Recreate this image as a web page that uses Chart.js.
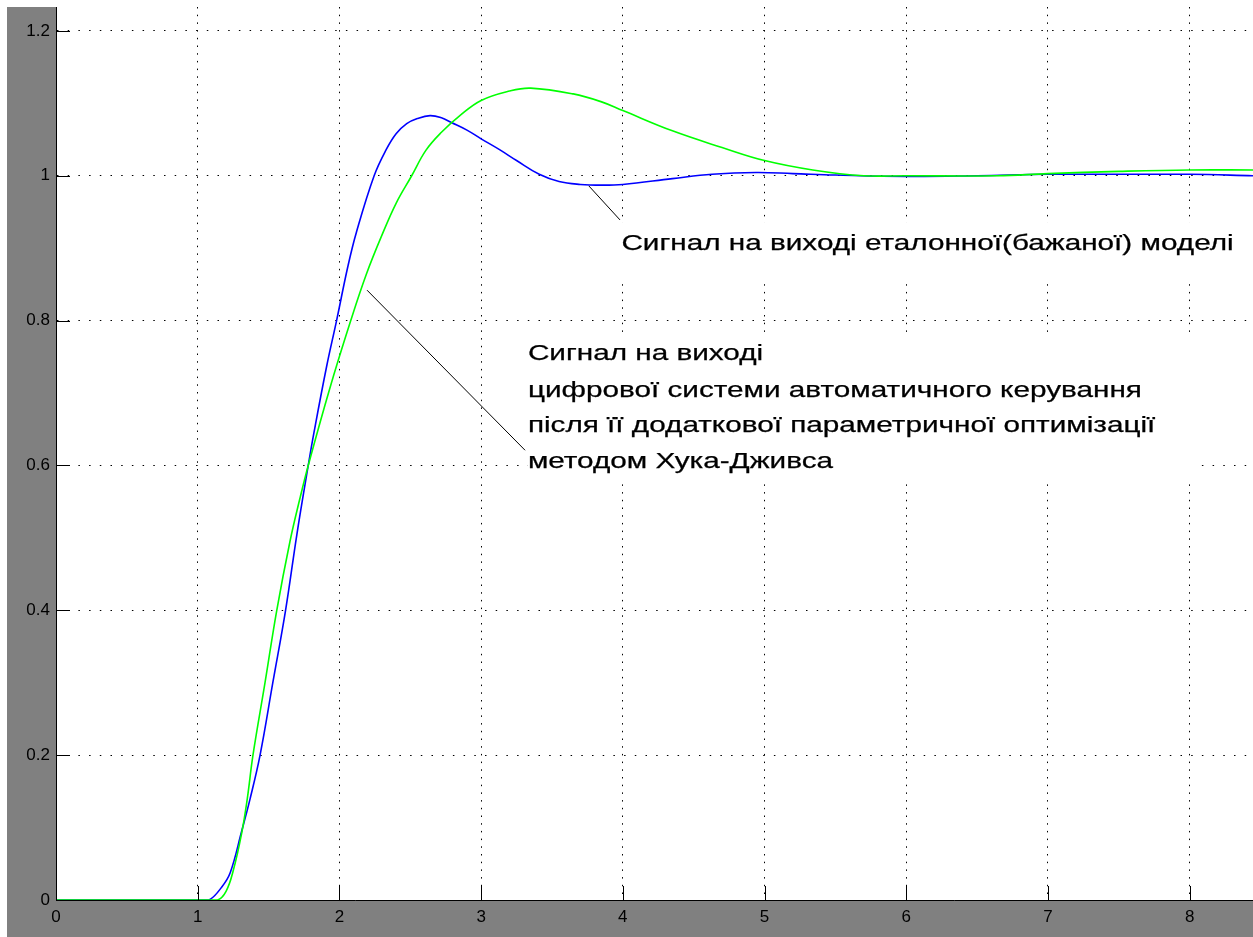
<!DOCTYPE html>
<html><head><meta charset="utf-8">
<script src="https://cdn.jsdelivr.net/npm/chart.js@4/dist/chart.umd.min.js"></script>
<style>html,body{margin:0;padding:0;background:#fff;}canvas{display:block;}</style>
</head><body>
<canvas id="c" width="1253" height="937"></canvas>
<script>
// ---- data ----
const blueT = [0, 1.0, 1.08, 1.17, 1.23, 1.31, 1.37, 1.44, 1.53, 1.62, 1.70, 1.78, 1.82, 1.91, 1.98, 2.06, 2.12, 2.245, 2.33, 2.40, 2.475, 2.55, 2.64, 2.72, 2.79, 2.9, 3.0, 3.13, 3.25, 3.41, 3.55, 3.7, 3.85, 4.0, 4.35, 4.63, 4.94, 5.2, 5.5, 6.0, 6.5, 7.0, 7.5, 8.0, 8.45];
const blueV = [0, 0, 0, 0.018, 0.038, 0.095, 0.14, 0.2, 0.3, 0.4, 0.505, 0.6, 0.645, 0.737, 0.8, 0.875, 0.922, 1.0, 1.036, 1.058, 1.072, 1.079, 1.083, 1.080, 1.0735, 1.063, 1.051, 1.036, 1.021, 1.002, 0.992, 0.988, 0.987, 0.988, 0.996, 1.002, 1.0045, 1.003, 1.001, 0.999, 1.0, 1.002, 1.002, 1.002, 1.0];
const greenT = [0, 1.0, 1.14, 1.2, 1.25, 1.31, 1.35, 1.39, 1.475, 1.557, 1.651, 1.722, 1.78, 1.93, 2.08, 2.19, 2.30, 2.40, 2.51, 2.61, 2.72, 2.85, 3.0, 3.2, 3.35, 3.65, 3.85, 4.0, 4.35, 4.7, 5.0, 5.34, 5.7, 6.0, 6.64, 7.0, 7.5, 8.0, 8.45];
const greenV = [0, 0, 0, 0.012, 0.04, 0.092, 0.14, 0.2, 0.3, 0.399, 0.495, 0.555, 0.6, 0.705, 0.8, 0.864, 0.918, 0.962, 1.0, 1.035, 1.06, 1.083, 1.104, 1.117, 1.121, 1.113, 1.102, 1.090, 1.062, 1.039, 1.021, 1.008, 1.0, 1.0, 1.0, 1.003, 1.006, 1.008, 1.008];
const xTicks = [0, 1, 2, 3, 4, 5, 6, 7, 8];
const yTicks = [0, 0.2, 0.4, 0.6, 0.8, 1, 1.2];
const yTickLabels = ['0', '0.2', '0.4', '0.6', '0.8', '1', '1.2'];
const label1Lines = ['Сигнал на виході еталонної(бажаної) моделі'];
const label2Lines = ['Сигнал на виході', 'цифрової системи автоматичного керування', 'після її додаткової параметричної оптимізації', 'методом Хука-Дживса'];

const zip = (t, v) => t.map((x, i) => ({x: x, y: v[i]}));

const bgPlugin = {
  id: 'bg',
  beforeDraw(chart) {
    const ctx = chart.ctx, a = chart.chartArea;
    ctx.save();
    ctx.fillStyle = '#ffffff';
    ctx.fillRect(0, 0, chart.width, chart.height);
    ctx.fillStyle = '#808080';
    ctx.fillRect(7, 7, chart.width - 7, chart.height - 7);
    ctx.fillStyle = '#ffffff';
    ctx.fillRect(a.left, a.top, a.right - a.left, a.bottom - a.top);
    ctx.restore();
  }
};

const FONT = '22px "Liberation Sans", Arial, sans-serif';
const annoPlugin = {
  id: 'anno',
  afterDatasetsDraw(chart) {
    const ctx = chart.ctx, xs = chart.scales.x, ys = chart.scales.y;
    const X = t => xs.getPixelForValue(t), Y = v => ys.getPixelForValue(v);
    ctx.save();
    ctx.font = FONT;
    const sx = 614 / ctx.measureText(label2Lines[1]).width;
    // text boxes
    ctx.fillStyle = '#ffffff';
    ctx.fillRect(X(3.945), Y(0.936), X(8.39) - X(3.945), Y(0.856) - Y(0.936));
    ctx.fillRect(X(3.33), Y(0.778), X(8.06) - X(3.33), Y(0.58) - Y(0.778));
    // leader lines
    ctx.strokeStyle = '#000';
    ctx.lineWidth = 1;
    ctx.beginPath();
    ctx.moveTo(X(3.76), Y(0.986)); ctx.lineTo(X(3.98), Y(0.939));
    ctx.moveTo(X(2.195), Y(0.842)); ctx.lineTo(X(3.31), Y(0.621));
    ctx.stroke();
    // texts
    ctx.fillStyle = '#000';
    ctx.strokeStyle = '#000';
    ctx.lineWidth = 0.25;
    ctx.textBaseline = 'alphabetic';
    const drawLine = (s, x, y) => {
      ctx.save(); ctx.translate(x, y); ctx.scale(sx, 1); ctx.fillText(s, 0, 0); ctx.strokeText(s, 0, 0); ctx.restore();
    };
    drawLine(label1Lines[0], X(3.99), Y(0.898));
    const base2 = [0.745, 0.695, 0.646, 0.597];
    label2Lines.forEach((s, i) => drawLine(s, X(3.33), Y(base2[i])));
    ctx.restore();
  }
};

const tickPlugin = {
  id: 'inTicks',
  afterDraw(chart) {
    const ctx = chart.ctx, xs = chart.scales.x, ys = chart.scales.y, a = chart.chartArea;
    ctx.save();
    ctx.strokeStyle = '#000';
    ctx.lineWidth = 1;
    ctx.beginPath();
    xTicks.forEach(t => { const p = Math.round(xs.getPixelForValue(t)) + 0.5; ctx.moveTo(p, a.bottom); ctx.lineTo(p, a.bottom - 14); });
    yTicks.forEach(v => { const p = Math.round(ys.getPixelForValue(v)) + 0.5; ctx.moveTo(a.left, p); ctx.lineTo(a.left + 14, p); });
    ctx.stroke();
    ctx.restore();
  }
};

const tickFont = {family: '"Liberation Sans", Arial, sans-serif', size: 17};

new Chart(document.getElementById('c'), {
  type: 'line',
  data: {
    datasets: [
      {data: zip(greenT, greenV), borderColor: '#00ff00', borderWidth: 1.6, pointRadius: 0, tension: 0.4, fill: false},
      {data: zip(blueT, blueV), borderColor: '#0000ff', borderWidth: 1.6, pointRadius: 0, tension: 0.4, fill: false}
    ]
  },
  options: {
    responsive: false,
    animation: false,
    devicePixelRatio: 1,
    layout: {padding: {top: 7, left: 0, right: 0, bottom: 0}},
    plugins: {legend: {display: false}, tooltip: {enabled: false}, title: {display: false}},
    scales: {
      x: {
        type: 'linear', min: 0, max: 8.447,
        afterBuildTicks: s => { s.ticks = xTicks.map(v => ({value: v})); },
        afterFit: s => { s.height = 37; s.paddingLeft = 0; s.paddingRight = 0; },
        ticks: {autoSkip: false, maxRotation: 0, padding: 7, color: '#000', font: tickFont, callback: v => String(v)},
        grid: {color: '#000', lineWidth: 1, drawTicks: false},
        border: {display: true, color: '#000', width: 1, dash: [1.5, 6.2]}
      },
      y: {
        type: 'linear', min: 0, max: 1.233,
        afterBuildTicks: s => { s.ticks = yTicks.map(v => ({value: v})); },
        afterFit: s => { s.width = 56; s.paddingTop = 0; s.paddingBottom = 0; },
        ticks: {autoSkip: false, padding: 6, color: '#000', font: tickFont,
          callback: (v) => { const i = yTicks.findIndex(t => Math.abs(t - v) < 1e-9); return i >= 0 ? yTickLabels[i] : ''; }},
        grid: {color: '#000', lineWidth: 1, drawTicks: false},
        border: {display: true, color: '#000', width: 1, dash: [1.5, 9.2]}
      }
    }
  },
  plugins: [bgPlugin, annoPlugin, tickPlugin]
});
</script>
</body></html>
